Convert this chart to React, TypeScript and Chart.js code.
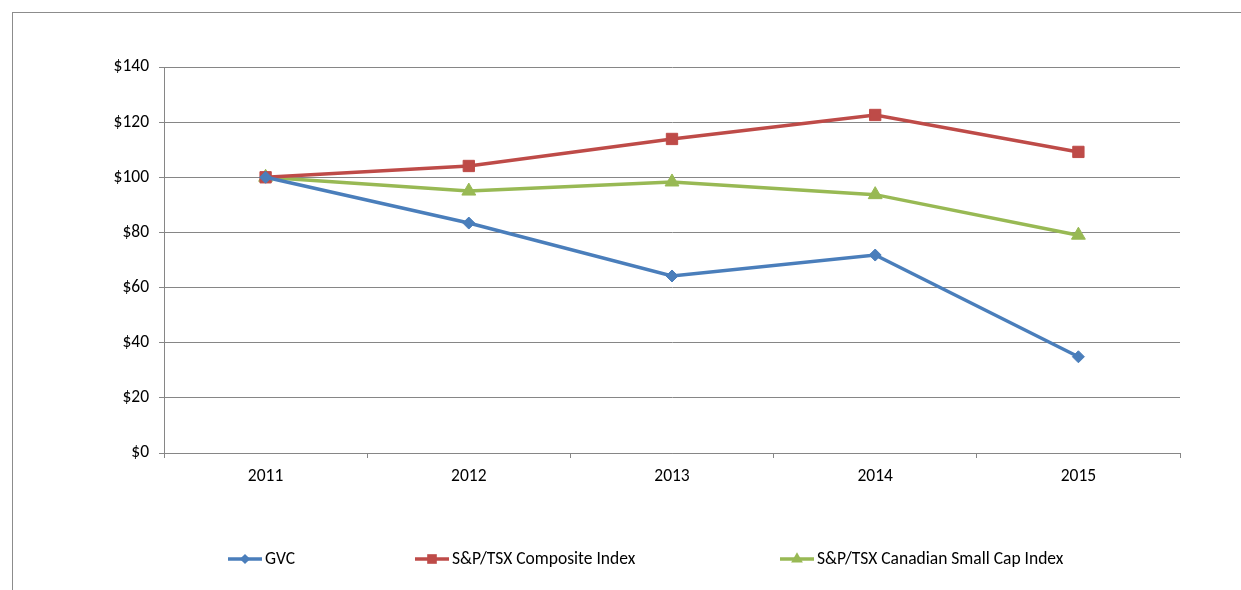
import React, { useEffect, useRef } from "react";
import { Chart, registerables } from "chart.js";

Chart.register(...registerables);

const years = ["2011", "2012", "2013", "2014", "2015"];
const gvc = [100, 83.4, 64.2, 71.8, 34.9];
const composite = [100, 104.1, 113.9, 122.6, 109.2];
const smallCap = [100, 95.0, 98.3, 93.7, 79.0];
const seriesNames = ["GVC", "S&P/TSX Composite Index", "S&P/TSX Canadian Small Cap Index"];
const seriesColors = ["#4A7EBB", "#BE4B48", "#98B954"];
const seriesStyles = ["rectRot", "rect", "triangle"];
const seriesRadius = [6, 8, 8];
const legendX = [228, 415, 780];

const FONT = "Carlito, 'Liberation Sans Narrow', 'Open Sans', sans-serif";
const FONT_SIZE = 17.5;

const decorPlugin = {
  id: "decor",
  beforeDraw(chart: any) {
    const ctx = chart.ctx;
    ctx.save();
    ctx.fillStyle = "#ffffff";
    ctx.fillRect(0, 0, chart.width, chart.height);
    ctx.strokeStyle = "#8c8c8c";
    ctx.lineWidth = 1;
    ctx.strokeRect(12.5, 12.5, 3000, 3000);
    ctx.restore();
  },
  afterDraw(chart: any) {
    const ctx = chart.ctx;
    ctx.save();
    const y = 559;
    chart.data.datasets.forEach((ds: any, i: number) => {
      const x0 = legendX[i];
      ctx.strokeStyle = ds.borderColor;
      ctx.lineWidth = 3.5;
      ctx.beginPath();
      ctx.moveTo(x0, y);
      ctx.lineTo(x0 + 34, y);
      ctx.stroke();
      ctx.fillStyle = ds.borderColor;
      drawMarker(ctx, ds.pointStyle, seriesRadius[i] * 0.85, x0 + 17, y);
      ctx.fillStyle = "#000000";
      ctx.font = FONT_SIZE + "px " + FONT;
      ctx.textBaseline = "middle";
      ctx.textAlign = "left";
      ctx.fillText(ds.label, x0 + 37, y + 1);
    });
    ctx.restore();
  },
};

function drawMarker(ctx: CanvasRenderingContext2D, style: string, r: number, x: number, y: number) {
  ctx.beginPath();
  if (style === "rectRot") {
    ctx.moveTo(x, y - r);
    ctx.lineTo(x + r, y);
    ctx.lineTo(x, y + r);
    ctx.lineTo(x - r, y);
  } else if (style === "rect") {
    const s = Math.SQRT1_2 * r;
    ctx.rect(x - s, y - s, 2 * s, 2 * s);
  } else {
    const a = (2 * Math.PI) / 3;
    for (let k = 0; k < 3; k++) {
      const px = x + Math.sin(k * a) * r;
      const py = y - Math.cos(k * a) * r;
      if (k === 0) ctx.moveTo(px, py);
      else ctx.lineTo(px, py);
    }
  }
  ctx.closePath();
  ctx.fill();
}

export default function App() {
  const ref = useRef<HTMLCanvasElement>(null);
  useEffect(() => {
    if (!ref.current) return;
    const values = [gvc, composite, smallCap];
    const chart = new Chart(ref.current, {
      type: "line",
      data: {
        labels: years,
        datasets: values.map((v, i) => ({
          label: seriesNames[i],
          data: v,
          borderColor: seriesColors[i],
          backgroundColor: seriesColors[i],
          borderWidth: 3.5,
          pointStyle: seriesStyles[i] as any,
          pointRadius: seriesRadius[i],
          pointBorderWidth: 1,
          pointBackgroundColor: seriesColors[i],
          pointBorderColor: seriesColors[i],
          tension: 0,
        })),
      },
      options: {
        responsive: false,
        animation: false,
        layout: { padding: { left: 0, right: 61, top: 67, bottom: 97 } },
        plugins: { legend: { display: false }, tooltip: { enabled: false } },
        scales: {
          x: {
            offset: true,
            afterFit: (s: any) => {
              s.height = 40;
            },
            grid: {
              drawOnChartArea: false,
              offset: true,
              drawTicks: true,
              tickLength: 5,
              color: "#868686",
            },
            border: { display: true, color: "#868686", width: 1 },
            ticks: {
              color: "#000000",
              padding: 8,
              font: { family: FONT, size: FONT_SIZE },
            },
          },
          y: {
            min: 0,
            max: 140,
            afterFit: (s: any) => {
              s.width = 164;
            },
            grid: { color: "#868686", lineWidth: 1, tickLength: 5, drawTicks: true },
            border: { display: true, color: "#868686", width: 1 },
            ticks: {
              stepSize: 20,
              color: "#000000",
              padding: 10,
              font: { family: FONT, size: FONT_SIZE },
              callback: (v: any) => "$" + v,
            },
          },
        },
      },
      plugins: [decorPlugin],
    });
    return () => chart.destroy();
  }, []);
  return (
    <div style={{ position: "absolute", left: 0, top: 0, width: 1241, height: 590 }}>
      <canvas ref={ref} width={1241} height={590} />
    </div>
  );
}
